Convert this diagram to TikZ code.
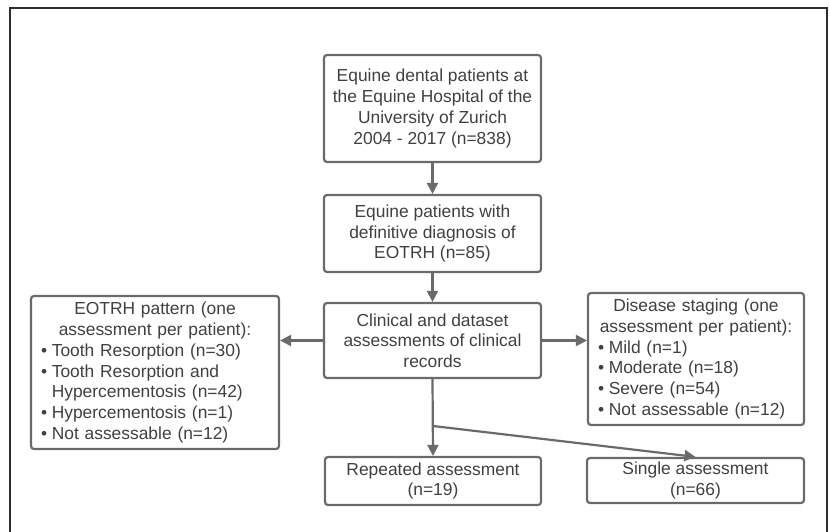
\documentclass[tikz,border=0pt]{standalone}
\usepackage{fontspec}
\setmainfont{Liberation Sans}
\usetikzlibrary{arrows.meta}
\definecolor{boxline}{HTML}{6A6A6A}
\definecolor{txtcol}{HTML}{404040}
\definecolor{framecol}{HTML}{2E2E2E}
\newcommand{\bul}{\makebox[10.8pt][l]{•}}
\newcommand{\hang}{\hspace*{10.8pt}}
\tikzset{
  box/.style={draw=boxline, line width=2.2pt, rounded corners=3pt, text=txtcol,
    font=\fontsize{17.4}{20.7}\selectfont, inner sep=0pt, align=center},
  listbox/.style={box, inner xsep=10pt, align=left},
  conn/.style={draw=boxline, line width=2.2pt, -{Triangle[length=11pt,width=11pt]}}
}
\begin{document}
\begin{tikzpicture}[x=1pt,y=-1pt]
\useasboundingbox (0,0) rectangle (830,532);
\draw[framecol, line width=1.6pt] (10,532) -- (10,8) -- (827,8) -- (827,532);

\node[box, minimum width=217pt, minimum height=107pt] (pop) at (432.5,108.5)
  {Equine dental patients at\\the Equine Hospital of the\\University of Zurich\\2004 - 2017 (n=838)};
\node[box, minimum width=217pt, minimum height=77pt] (diag) at (432.5,233.5)
  {Equine patients with\\definitive diagnosis of\\EOTRH (n=85)};
\node[box, minimum width=217pt, minimum height=75pt] (clin) at (432.5,340.5)
  {Clinical and dataset\\assessments of clinical\\records};
\node[listbox, text width=228pt, minimum height=153pt] (pat) at (155,372.5)
  {{\centering EOTRH pattern (one\\assessment per patient):\par}
   \bul Tooth Resorption (n=30)\\
   \bul Tooth Resorption and\\
   \hang Hypercementosis (n=42)\\
   \bul Hypercementosis (n=1)\\
   \bul Not assessable (n=12)};
\node[listbox, text width=196pt, minimum height=132pt] (stage) at (696,359)
  {{\centering Disease staging (one\\assessment per patient):\par}
   \bul Mild (n=1)\\
   \bul Moderate (n=18)\\
   \bul Severe (n=54)\\
   \bul Not assessable (n=12)};
\node[box, minimum width=216pt, minimum height=48pt] (rep) at (433,481)
  {Repeated assessment\\(n=19)};
\node[box, minimum width=217pt, minimum height=45pt] (single) at (695.5,480.5)
  {Single assessment\\(n=66)};

\coordinate (branch) at (433,426);

\draw[conn] (pop) -- (diag);
\draw[conn] (diag) -- (clin);
\draw[conn] (clin.west) -- (pat.east |- clin.west);
\draw[conn] (clin.east) -- (stage.west |- clin.east);
\draw[conn] (clin.south) -- (rep.north);
\draw[conn] (branch) -- (single.north);
\end{tikzpicture}
\end{document}
